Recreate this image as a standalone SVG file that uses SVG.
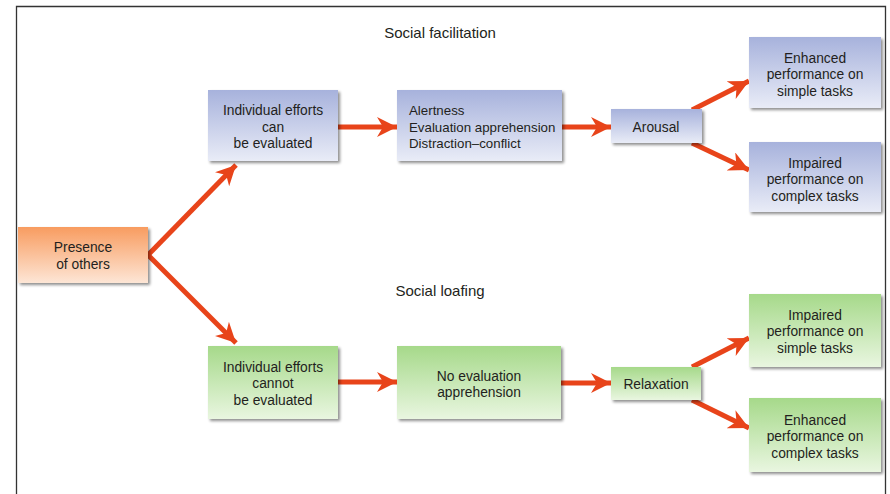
<svg xmlns="http://www.w3.org/2000/svg" width="890" height="494" viewBox="0 0 890 494">
<defs>
<linearGradient id="gBlue" x1="0" y1="0" x2="0" y2="1"><stop offset="0" stop-color="#a7b2dc"/><stop offset="1" stop-color="#e9ecf7"/></linearGradient>
<linearGradient id="gGreen" x1="0" y1="0" x2="0" y2="1"><stop offset="0" stop-color="#a6d98a"/><stop offset="1" stop-color="#e9f6e0"/></linearGradient>
<linearGradient id="gOrange" x1="0" y1="0" x2="0" y2="1"><stop offset="0" stop-color="#f89c60"/><stop offset="1" stop-color="#fde6d6"/></linearGradient>
<filter id="sh" x="-10%" y="-10%" width="130%" height="140%"><feGaussianBlur in="SourceAlpha" stdDeviation="1.5"/><feOffset dx="2" dy="2"/><feComponentTransfer><feFuncA type="linear" slope="0.45"/></feComponentTransfer><feMerge><feMergeNode/><feMergeNode in="SourceGraphic"/></feMerge></filter>
<marker id="ah" viewBox="-20 -10 20 20" refX="0" refY="0" markerWidth="20" markerHeight="20" markerUnits="userSpaceOnUse" orient="auto"><path d="M0,0 L-20,-10 L-14,0 L-20,10 Z" fill="#e8441a"/></marker>
</defs>
<style>
text{font-family:"Liberation Sans",Arial,sans-serif;font-size:13.8px;fill:#231f20;text-anchor:middle}
.l{text-anchor:start;font-size:13.3px}
.t{font-size:15px}
.blue{fill:url(#gBlue);filter:url(#sh)}
.green{fill:url(#gGreen);filter:url(#sh)}
.orange{fill:url(#gOrange);filter:url(#sh)}
.c{stroke:#e8441a;stroke-width:5;fill:none;marker-end:url(#ah)}
</style>
<rect x="0" y="0" width="890" height="494" fill="#ffffff"/>
<path d="M16.5,494 V6.5 H885.5 V494" fill="none" stroke="#333" stroke-width="1.3"/>
<text class="t" x="440" y="38">Social facilitation</text>
<text class="t" x="440" y="296">Social loafing</text>
<g id="connectors">
<path class="c" d="M148,255 L236,165"/>
<path class="c" d="M148,255 L236,343"/>
<path class="c" d="M338,127 L397,127"/>
<path class="c" d="M562,127 L611,127"/>
<path class="c" d="M692,110 L749,81"/>
<path class="c" d="M692,143 L749,170"/>
<path class="c" d="M338,382 L397,382"/>
<path class="c" d="M561,383 L611,383"/>
<path class="c" d="M692,367 L749,338"/>
<path class="c" d="M692,400 L749,428"/>
</g>
<g id="presence"><rect class="orange" x="18" y="227" width="130" height="56"/><text x="83" y="252">Presence</text><text x="83" y="269">of others</text></g>
<g id="can"><rect class="blue" x="208" y="90" width="130" height="71"/><text x="273" y="115">Individual efforts</text><text x="273" y="132">can</text><text x="273" y="148">be evaluated</text></g>
<g id="alertness"><rect class="blue" x="397" y="90" width="165" height="71"/><text class="l" x="409" y="115">Alertness</text><text class="l" x="409" y="132">Evaluation apprehension</text><text class="l" x="409" y="148">Distraction–conflict</text></g>
<g id="arousal"><rect class="blue" x="611" y="109" width="91" height="34"/><text x="656" y="132">Arousal</text></g>
<g id="enhSimple"><rect class="blue" x="749" y="37" width="132" height="71"/><text x="815" y="63">Enhanced</text><text x="815" y="79">performance on</text><text x="815" y="96">simple tasks</text></g>
<g id="impComplex"><rect class="blue" x="749" y="142" width="132" height="70"/><text x="815" y="168">Impaired</text><text x="815" y="184">performance on</text><text x="815" y="201">complex tasks</text></g>
<g id="cannot"><rect class="green" x="208" y="346" width="130" height="73"/><text x="273" y="372">Individual efforts</text><text x="273" y="388">cannot</text><text x="273" y="405">be evaluated</text></g>
<g id="noEval"><rect class="green" x="397" y="346" width="164" height="73"/><text x="479" y="381">No evaluation</text><text x="479" y="397">apprehension</text></g>
<g id="relaxation"><rect class="green" x="611" y="367" width="90" height="33"/><text x="656" y="389">Relaxation</text></g>
<g id="impSimple"><rect class="green" x="749" y="294" width="132" height="73"/><text x="815" y="320">Impaired</text><text x="815" y="336">performance on</text><text x="815" y="353">simple tasks</text></g>
<g id="enhComplex"><rect class="green" x="749" y="398" width="132" height="74"/><text x="815" y="425">Enhanced</text><text x="815" y="441">performance on</text><text x="815" y="458">complex tasks</text></g>
</svg>
